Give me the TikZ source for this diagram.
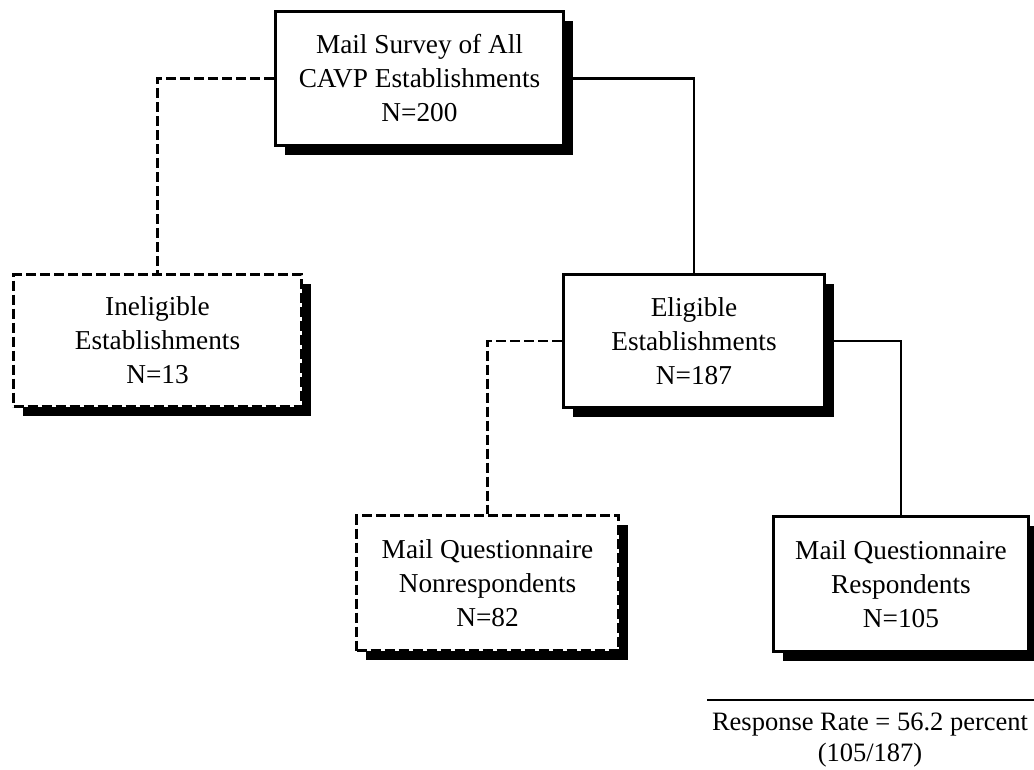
\documentclass[tikz,border=0pt]{standalone}
\usepackage{fontspec}
\setmainfont{Liberation Serif}
\usetikzlibrary{shadows}
\begin{document}
\begin{tikzpicture}[x=1pt,y=-1pt,
  box/.style={draw, line width=3.4pt, fill=white, align=center, inner sep=0pt,
    font=\fontsize{27.3}{34}\selectfont,
    drop shadow={shadow xshift=9pt, shadow yshift=-9pt, opacity=1, fill=black}},
  dbox/.style={box, dash pattern=on 10pt off 4pt},
  solidline/.style={line width=2.6pt},
  dashline/.style={line width=2.6pt, dash pattern=on 10pt off 4pt}]
\useasboundingbox (0,0) rectangle (1034,769);
\node[box, minimum width=288pt, minimum height=134pt] (top) at (419.5,78.5)
  {Mail Survey of All\\CAVP Establishments\\N=200};
\node[dbox, minimum width=288pt, minimum height=132pt] (inel) at (157.5,340.5)
  {Ineligible\\Establishments\\N=13};
\node[box, minimum width=261pt, minimum height=133pt] (elig) at (694,341)
  {Eligible\\Establishments\\N=187};
\node[dbox, minimum width=262pt, minimum height=135pt] (nonr) at (487.5,583)
  {Mail Questionnaire\\Nonrespondents\\N=82};
\node[box, minimum width=255pt, minimum height=135pt] (resp) at (901,584)
  {Mail Questionnaire\\Respondents\\N=105};
\draw[dashline] (top.west) -| (inel.north);
\draw[solidline] (top.east) -| (elig.north);
\draw[dashline] (elig.west) -| (nonr.north);
\draw[solidline] (elig.east) -| (resp.north);
\coordinate (rl) at (707,700);
\coordinate (rr) at (1034,700);
\draw[line width=2.4pt] (rl) -- (rr);
\node[align=center, inner sep=0pt, font=\fontsize{26.5}{31}\selectfont] (rate) at (870,740)
  {Response Rate = 56.2 percent\\(105/187)};
\end{tikzpicture}
\end{document}
